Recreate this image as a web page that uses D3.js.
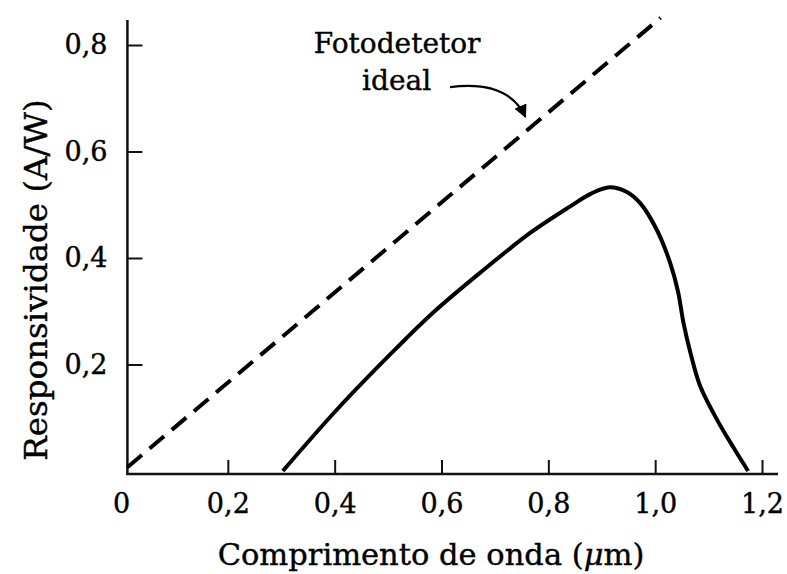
<!DOCTYPE html>
<html>
<head>
<meta charset="utf-8">
<script src="https://cdn.jsdelivr.net/npm/d3@7"></script>
<style>
  body { margin: 0; background: #fff; }
  svg { display: block; font-family: "DejaVu Serif", serif; }
</style>
</head>
<body>
<div id="chart"></div>
<script>
(function(){

    // data
    var xTicks = [0, 0.2, 0.4, 0.6, 0.8, 1.0, 1.2];
    var yTicks = [0.2, 0.4, 0.6, 0.8];

    var idealX = [0.012, 1.01];
    var idealY = [0.007, 0.851];

    var realX = [0.303, 0.404, 0.517, 0.585, 0.672, 0.766, 0.841, 0.880, 0.915, 0.947, 0.972, 1.003, 1.028, 1.043, 1.053, 1.066, 1.084, 1.116, 1.146, 1.174];
    var realY = [0.0, 0.115, 0.232, 0.298, 0.372, 0.447, 0.497, 0.521, 0.533, 0.524, 0.503, 0.453, 0.391, 0.336, 0.278, 0.222, 0.160, 0.096, 0.045, 0.0];

    var xTitle = "Comprimento de onda (";
    var yTitle = "Responsividade (A/W)";
    var noteLines = ["Fotodetetor", "ideal"];

    var width = 787, height = 574;

    var x = d3.scaleLinear().domain([0, 1.2]).range([121, 762]);
    var y = d3.scaleLinear().domain([0, 0.8]).range([471, 45]);

    var fmt = function(d) { return d === 0 ? "0" : d3.format(".1f")(d).replace(".", ","); };

    var svg = d3.select("#chart").append("svg")
        .attr("width", width)
        .attr("height", height);

    svg.append("rect").attr("width", width).attr("height", height).attr("fill", "#fff");

    var axisY = y(0) + 3;   // the printed x axis sits a touch below zero
    var axisX = x(0.012);

    // x axis
    var gx = svg.append("g")
        .attr("transform", "translate(0," + axisY + ")")
        .call(d3.axisBottom(x).tickValues(xTicks).tickFormat(fmt).tickSizeInner(-14).tickSizeOuter(0).tickPadding(20));
    gx.select(".domain").remove();
    gx.selectAll(".tick").filter(function(d) { return d === 0; }).select("line").remove();
    gx.selectAll(".tick line").attr("stroke", "#111").attr("stroke-width", 2);
    gx.selectAll(".tick text").attr("font-family", "DejaVu Serif").attr("font-size", 27)
        .attr("fill", "#000").attr("stroke", "#000").attr("stroke-width", 0.4);

    svg.append("line")
        .attr("x1", axisX - 1).attr("x2", 778)
        .attr("y1", axisY).attr("y2", axisY)
        .attr("stroke", "#111").attr("stroke-width", 2.5);

    // y axis
    var gy = svg.append("g")
        .attr("transform", "translate(" + axisX + ",0)")
        .call(d3.axisLeft(y).tickValues(yTicks).tickFormat(fmt).tickSizeInner(-15).tickSizeOuter(0).tickPadding(20));
    gy.select(".domain").remove();
    gy.selectAll(".tick line").attr("stroke", "#111").attr("stroke-width", 2);
    gy.selectAll(".tick text").attr("font-family", "DejaVu Serif").attr("font-size", 27)
        .attr("fill", "#000").attr("stroke", "#000").attr("stroke-width", 0.4);

    svg.append("line")
        .attr("x1", axisX).attr("x2", axisX)
        .attr("y1", axisY + 1).attr("y2", 20)
        .attr("stroke", "#111").attr("stroke-width", 2.5);

    // lines
    var line = d3.line()
        .x(function(d) { return x(d[0]); })
        .y(function(d) { return y(d[1]); });

    svg.append("path")
        .datum(d3.zip(idealX, idealY))
        .attr("d", line)
        .attr("fill", "none")
        .attr("stroke", "#000")
        .attr("stroke-width", 4)
        .attr("stroke-dasharray", "19,10");

    svg.append("path")
        .datum(d3.zip(realX, realY))
        .attr("d", line.curve(d3.curveCatmullRom.alpha(0.5)))
        .attr("fill", "none")
        .attr("stroke", "#000")
        .attr("stroke-width", 4)
        .attr("stroke-linejoin", "round");

    // annotation
    svg.append("defs").append("marker")
        .attr("id", "head")
        .attr("viewBox", "0 -5 10 10")
        .attr("refX", 9).attr("refY", 0)
        .attr("markerWidth", 6).attr("markerHeight", 6)
        .attr("markerUnits", "strokeWidth")
        .attr("orient", "auto")
      .append("path")
        .attr("d", "M0,-5L10,0L0,5Z")
        .attr("fill", "#000");

    var note = svg.append("text")
        .attr("text-anchor", "middle")
        .attr("font-size", 28)
        .attr("fill", "#000")
        .attr("stroke", "#000")
        .attr("stroke-width", 0.4);
    note.append("tspan").attr("x", x(0.517)).attr("y", y(0.785)).text(noteLines[0]);
    note.append("tspan").attr("x", x(0.516)).attr("y", y(0.715)).text(noteLines[1]);

    var p = d3.path();
    p.moveTo(x(0.616), y(0.721));
    p.quadraticCurveTo(x(0.725), y(0.735), x(0.757), y(0.665));
    svg.append("path")
        .attr("d", p.toString())
        .attr("fill", "none")
        .attr("stroke", "#000")
        .attr("stroke-width", 2.2)
        .attr("marker-end", "url(#head)");

    // axis titles
    var xt = svg.append("text")
        .attr("x", (217 + 645) / 2)
        .attr("y", 565)
        .attr("text-anchor", "middle")
        .attr("font-size", 30.5)
        .attr("fill", "#000")
        .attr("stroke", "#000")
        .attr("stroke-width", 0.4);
    xt.append("tspan").text(xTitle);
    xt.append("tspan").attr("font-style", "italic").text("\u03bc");
    xt.append("tspan").text("m)");

    svg.append("text")
        .attr("transform", "translate(47," + ((93 + 467) / 2) + ") rotate(-90)")
        .attr("text-anchor", "middle")
        .attr("font-size", 32.5)
        .attr("fill", "#000")
        .attr("stroke", "#000")
        .attr("stroke-width", 0.4)
        .text(yTitle);

})();
</script>
</body>
</html>
